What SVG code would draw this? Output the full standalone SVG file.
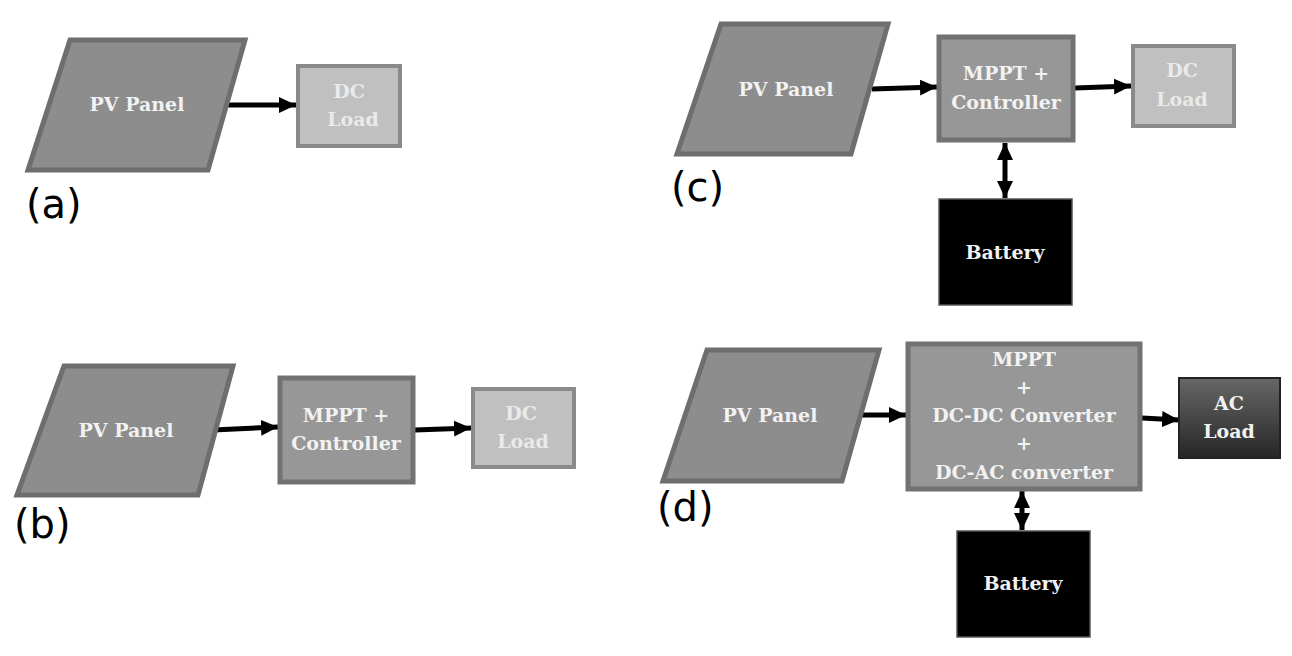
<svg xmlns="http://www.w3.org/2000/svg" width="1292" height="656" viewBox="0 0 1292 656">
<style>
.pv{fill:#8d8d8d;stroke:#6e6e6e;stroke-width:5}
.ctl{fill:#979797;stroke:#727272;stroke-width:5}
.dc{fill:#c0c0c0;stroke:#8a8a8a;stroke-width:4}
.bat{fill:#000;stroke:#555;stroke-width:1.5}
.ac{fill:url(#acg);stroke:#222;stroke-width:2}
.t{font-family:"DejaVu Serif","Liberation Serif",serif;font-weight:bold;fill:#f2f2f2;text-anchor:middle;font-size:19px}
.td{fill:#eaeaea}
.lbl{font-family:"DejaVu Sans","Liberation Sans",sans-serif;font-size:40px;fill:#000}
.c{stroke:#000;stroke-width:5;fill:none}
</style>
<defs>
<marker id="ah" markerUnits="userSpaceOnUse" markerWidth="18" markerHeight="18" refX="17" refY="9" orient="auto-start-reverse"><path d="M0,1 L17,9 L0,17 Z" fill="#000"/></marker>
<linearGradient id="acg" x1="0" y1="0" x2="0" y2="1"><stop offset="0" stop-color="#676767"/><stop offset="1" stop-color="#262626"/></linearGradient>
</defs>

<g id="connectors">
<line class="c" x1="224" y1="105" x2="296" y2="105" marker-end="url(#ah)"/>
<line class="c" x1="213" y1="430" x2="278" y2="427" marker-end="url(#ah)"/>
<line class="c" x1="415" y1="430" x2="471" y2="428" marker-end="url(#ah)"/>
<line class="c" x1="872" y1="89" x2="937" y2="87" marker-end="url(#ah)"/>
<line class="c" x1="1075" y1="88" x2="1131" y2="86" marker-end="url(#ah)"/>
<line class="c" x1="1005" y1="143" x2="1005" y2="198" marker-start="url(#ah)" marker-end="url(#ah)"/>
<line class="c" x1="860" y1="415" x2="906" y2="415" marker-end="url(#ah)"/>
<line class="c" x1="1142" y1="418" x2="1179" y2="420" marker-end="url(#ah)"/>
<line class="c" x1="1022" y1="491" x2="1022" y2="530" marker-start="url(#ah)" marker-end="url(#ah)"/>
</g>

<g id="a-pv"><polygon class="pv" points="70,40 245,40 208,170 28,170"/><text class="t" x="137" y="111">PV Panel</text></g>
<g id="a-dc"><rect class="dc" x="298" y="66" width="102" height="80"/><text class="t td" x="349" y="98">DC</text><text class="t td" x="353" y="126">Load</text></g>
<text class="lbl" x="26" y="218">(a)</text>

<g id="b-pv"><polygon class="pv" points="64,366 233,366 198,495 17,495"/><text class="t" x="126" y="437">PV Panel</text></g>
<g id="b-ctl"><rect class="ctl" x="280" y="378" width="133" height="104"/><text class="t" x="346" y="422">MPPT +</text><text class="t" x="346" y="450">Controller</text></g>
<g id="b-dc"><rect class="dc" x="473" y="389" width="101" height="78"/><text class="t td" x="521" y="420">DC</text><text class="t td" x="523" y="448">Load</text></g>
<text class="lbl" x="14" y="538">(b)</text>

<g id="c-pv"><polygon class="pv" points="721,24 888,24 851,154 677,154"/><text class="t" x="786" y="96">PV Panel</text></g>
<g id="c-ctl"><rect class="ctl" x="939" y="37" width="134" height="103"/><text class="t" x="1006" y="80">MPPT +</text><text class="t" x="1006" y="109">Controller</text></g>
<g id="c-dc"><rect class="dc" x="1133" y="46" width="101" height="80"/><text class="t td" x="1182" y="77">DC</text><text class="t td" x="1182" y="106">Load</text></g>
<g id="c-bat"><rect class="bat" x="939" y="199" width="133" height="106"/><text class="t" x="1005" y="259">Battery</text></g>
<text class="lbl" x="671" y="201">(c)</text>

<g id="d-pv"><polygon class="pv" points="707,350 879,350 842,481 663,481"/><text class="t" x="770" y="422">PV Panel</text></g>
<g id="d-ctl"><rect class="ctl" x="908" y="344" width="232" height="145"/><text class="t" x="1024" y="366">MPPT</text><text class="t" x="1024" y="394">+</text><text class="t" x="1024" y="422">DC-DC Converter</text><text class="t" x="1024" y="450">+</text><text class="t" x="1024" y="479">DC-AC converter</text></g>
<g id="d-ac"><rect class="ac" x="1179" y="378" width="101" height="80"/><text class="t" x="1229" y="410">AC</text><text class="t" x="1229" y="438">Load</text></g>
<g id="d-bat"><rect class="bat" x="957" y="531" width="133" height="106"/><text class="t" x="1023" y="590">Battery</text></g>
<text class="lbl" x="657" y="521">(d)</text>
</svg>
